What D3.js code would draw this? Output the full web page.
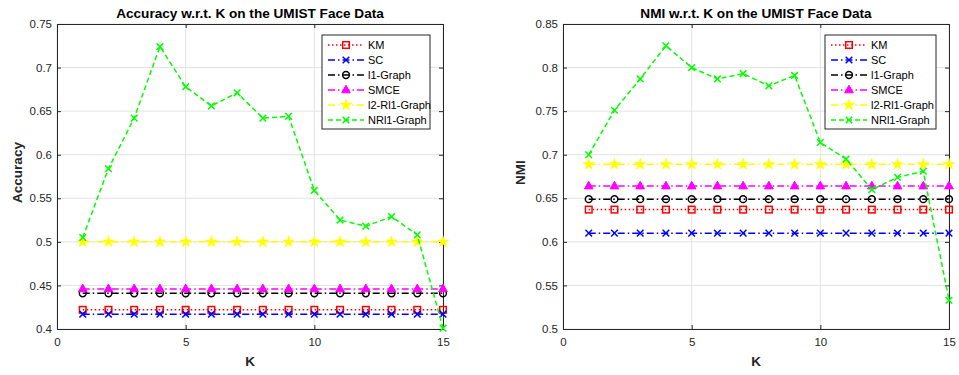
<!DOCTYPE html>
<html>
<head>
<meta charset="utf-8">
<script src="https://cdn.jsdelivr.net/npm/d3@7"></script>
<style>
  body { margin: 0; background: #fff; }
  svg { display: block; font-family: "Liberation Sans", Arial, sans-serif; }
</style>
</head>
<body>
<svg id="chart" width="959" height="375"></svg>
<script>
const kValues = [1, 2, 3, 4, 5, 6, 7, 8, 9, 10, 11, 12, 13, 14, 15];
const methods = ['KM', 'SC', 'l1-Graph', 'SMCE', 'l2-Rl1-Graph', 'NRl1-Graph'];

// accuracy per method
const accKM    = [0.422, 0.422, 0.422, 0.422, 0.422, 0.422, 0.422, 0.422, 0.422, 0.422, 0.422, 0.422, 0.422, 0.422, 0.422];
const accSC    = [0.417, 0.417, 0.417, 0.417, 0.417, 0.417, 0.417, 0.417, 0.417, 0.417, 0.417, 0.417, 0.417, 0.417, 0.417];
const accL1    = [0.441, 0.441, 0.441, 0.441, 0.441, 0.441, 0.441, 0.441, 0.441, 0.441, 0.441, 0.441, 0.441, 0.441, 0.441];
const accSMCE  = [0.446, 0.446, 0.446, 0.446, 0.446, 0.446, 0.446, 0.446, 0.446, 0.446, 0.446, 0.446, 0.446, 0.446, 0.446];
const accL2    = [0.5, 0.5, 0.5, 0.5, 0.5, 0.5, 0.5, 0.5, 0.5, 0.5, 0.5, 0.5, 0.5, 0.5, 0.5];
const accNRL1  = [0.505, 0.584, 0.642, 0.724, 0.678, 0.656, 0.671, 0.642, 0.644, 0.559, 0.525, 0.518, 0.529, 0.508, 0.401];

// NMI per method
const nmiKM    = [0.637, 0.637, 0.637, 0.637, 0.637, 0.637, 0.637, 0.637, 0.637, 0.637, 0.637, 0.637, 0.637, 0.637, 0.637];
const nmiSC    = [0.610, 0.610, 0.610, 0.610, 0.610, 0.610, 0.610, 0.610, 0.610, 0.610, 0.610, 0.610, 0.610, 0.610, 0.610];
const nmiL1    = [0.649, 0.649, 0.649, 0.649, 0.649, 0.649, 0.649, 0.649, 0.649, 0.649, 0.649, 0.649, 0.649, 0.649, 0.649];
const nmiSMCE  = [0.664, 0.664, 0.664, 0.664, 0.664, 0.664, 0.664, 0.664, 0.664, 0.664, 0.664, 0.664, 0.664, 0.664, 0.664];
const nmiL2    = [0.689, 0.689, 0.689, 0.689, 0.689, 0.689, 0.689, 0.689, 0.689, 0.689, 0.689, 0.689, 0.689, 0.689, 0.689];
const nmiNRL1  = [0.700, 0.751, 0.787, 0.825, 0.800, 0.787, 0.793, 0.779, 0.791, 0.714, 0.695, 0.660, 0.674, 0.681, 0.533];

const xTicks = [0, 5, 10, 15];
const accTicks = [0.4, 0.45, 0.5, 0.55, 0.6, 0.65, 0.7, 0.75];
const nmiTicks = [0.5, 0.55, 0.6, 0.65, 0.7, 0.75, 0.8, 0.85];

const styles = [
  { color: '#ff0000', dash: '1.5,2.5', marker: 'square' },
  { color: '#0000ff', dash: '7,3,1.5,3', marker: 'x' },
  { color: '#000000', dash: '7,3,1.5,3', marker: 'circle' },
  { color: '#ff00ff', dash: '7,3,1.5,3', marker: 'triangle' },
  { color: '#ffff00', dash: '7,3,1.5,3', marker: 'star' },
  { color: '#00ff00', dash: '5,3', marker: 'x' }
];

const svg = d3.select('#chart');
const tickColor = '#262626';

function drawMarker(g, type, x, y, color) {
  if (type === 'square') {
    g.append('rect').attr('x', x - 3.3).attr('y', y - 3.3).attr('width', 6.6).attr('height', 6.6)
      .attr('fill', 'none').attr('stroke', color).attr('stroke-width', 1.5);
  } else if (type === 'x') {
    g.append('path').attr('d', `M${x-3.3},${y-3.3}L${x+3.3},${y+3.3}M${x-3.3},${y+3.3}L${x+3.3},${y-3.3}`)
      .attr('stroke', color).attr('stroke-width', 1.5).attr('fill', 'none');
  } else if (type === 'circle') {
    g.append('circle').attr('cx', x).attr('cy', y).attr('r', 3.4)
      .attr('fill', 'none').attr('stroke', color).attr('stroke-width', 1.5);
  } else if (type === 'triangle') {
    g.append('path').attr('d', `M${x},${y-4.8}L${x+4.3},${y+2.8}L${x-4.3},${y+2.8}Z`)
      .attr('fill', color).attr('stroke', color).attr('stroke-width', 1);
  } else if (type === 'star') {
    g.append('path').attr('d', d3.symbol(d3.symbolStar, 42)())
      .attr('transform', `translate(${x},${y})`)
      .attr('fill', color).attr('stroke', color).attr('stroke-width', 0.5);
  }
}

function drawPanel(opt) {
  const x = d3.scaleLinear().domain([0, 15]).range([opt.left, opt.right]);
  const y = d3.scaleLinear().domain(opt.yDomain).range([opt.bottom, opt.top]);
  const g = svg.append('g');

  // grid
  g.selectAll('.gx').data(xTicks).join('line')
    .attr('x1', d => x(d)).attr('x2', d => x(d))
    .attr('y1', opt.top).attr('y2', opt.bottom)
    .attr('stroke', '#e3e3e3').attr('stroke-width', 1);
  g.selectAll('.gy').data(opt.yTicks).join('line')
    .attr('x1', opt.left).attr('x2', opt.right)
    .attr('y1', d => y(d)).attr('y2', d => y(d))
    .attr('stroke', '#e3e3e3').attr('stroke-width', 1);

  // axes (box, ticks inward)
  const xAxis = d3.axisBottom(x).tickValues(xTicks).tickSize(-4).tickPadding(9).tickFormat(d3.format('d'));
  const yAxis = d3.axisLeft(y).tickValues(opt.yTicks).tickSize(-4).tickPadding(5).tickFormat(d => String(+d.toFixed(2)));
  const ax = g.append('g').attr('transform', `translate(0,${opt.bottom})`).call(xAxis);
  const ay = g.append('g').attr('transform', `translate(${opt.left},0)`).call(yAxis);
  const axTop = g.append('g').attr('transform', `translate(0,${opt.top})`)
    .call(d3.axisTop(x).tickValues(xTicks).tickSize(-4).tickFormat(''));
  const ayRight = g.append('g').attr('transform', `translate(${opt.right},0)`)
    .call(d3.axisRight(y).tickValues(opt.yTicks).tickSize(-4).tickFormat(''));
  [ax, ay, axTop, ayRight].forEach(a => {
    a.select('.domain').attr('stroke', tickColor).attr('stroke-width', 1);
    a.selectAll('.tick line').attr('stroke', tickColor);
    a.selectAll('.tick text').attr('fill', tickColor).style('font-size', '11.5px')
      .style('font-family', '"Liberation Sans", Arial, sans-serif');
  });

  // series
  const lineGen = d3.line().x((d, i) => x(kValues[i])).y(d => y(d));
  opt.series.forEach((vals, si) => {
    const st = styles[si];
    const sg = g.append('g');
    sg.append('path').datum(vals).attr('d', lineGen)
      .attr('fill', 'none').attr('stroke', st.color).attr('stroke-width', 1.5)
      .attr('stroke-dasharray', st.dash);
    vals.forEach((v, i) => drawMarker(sg, st.marker, x(kValues[i]), y(v), st.color));
  });

  // title and labels
  g.append('text').attr('x', (opt.left + opt.right) / 2).attr('y', 18)
    .attr('text-anchor', 'middle').attr('font-weight', 'bold').attr('font-size', 13.6)
    .attr('fill', '#000').text(opt.title);
  g.append('text').attr('x', (opt.left + opt.right) / 2).attr('y', 366)
    .attr('text-anchor', 'middle').attr('font-weight', 'bold').attr('font-size', 13.5)
    .attr('fill', tickColor).text('K');
  g.append('text').attr('transform', `translate(${opt.yLabelX},${(opt.top + opt.bottom) / 2 - 4}) rotate(-90)`)
    .attr('text-anchor', 'middle').attr('font-weight', 'bold').attr('font-size', 13.5)
    .attr('fill', tickColor).text(opt.yLabel);

  // legend
  const lw = opt.legendWidth, lh = 94;
  const lx = opt.right - 13 - lw, ly = opt.top + 11;
  const lg = g.append('g');
  lg.append('rect').attr('x', lx).attr('y', ly).attr('width', lw).attr('height', lh)
    .attr('fill', '#fff').attr('stroke', tickColor).attr('stroke-width', 1);
  methods.forEach((m, i) => {
    const st = styles[i];
    const yy = ly + 10 + i * 15;
    lg.append('line').attr('x1', lx + 6).attr('x2', lx + 42).attr('y1', yy).attr('y2', yy)
      .attr('stroke', st.color).attr('stroke-width', 1.5).attr('stroke-dasharray', st.dash);
    drawMarker(lg, st.marker, lx + 24, yy, st.color);
    lg.append('text').attr('x', lx + 46).attr('y', yy + 4).attr('font-size', 11)
      .attr('fill', '#000').text(m);
  });
}

drawPanel({
  left: 57, right: 443, top: 24, bottom: 329,
  yDomain: [0.4, 0.75], yTicks: accTicks,
  series: [accKM, accSC, accL1, accSMCE, accL2, accNRL1],
  title: 'Accuracy w.r.t. K on the UMIST Face Data',
  yLabel: 'Accuracy', yLabelX: 22, legendWidth: 108
});

drawPanel({
  left: 563, right: 949, top: 24, bottom: 329,
  yDomain: [0.5, 0.85], yTicks: nmiTicks,
  series: [nmiKM, nmiSC, nmiL1, nmiSMCE, nmiL2, nmiNRL1],
  title: 'NMI w.r.t. K on the UMIST Face Data',
  yLabel: 'NMI', yLabelX: 525, legendWidth: 111
});
</script>
</body>
</html>
